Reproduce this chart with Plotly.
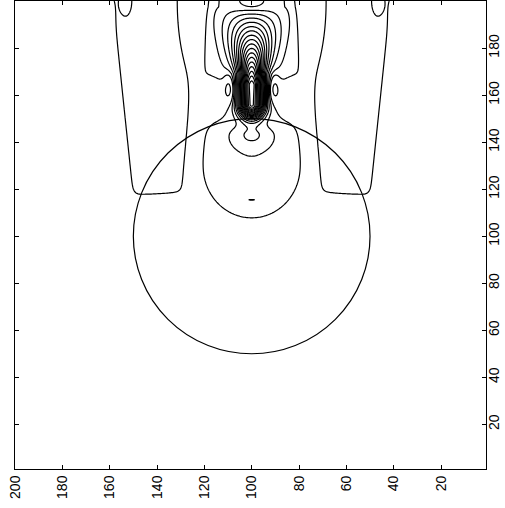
import numpy as np
import plotly.graph_objects as go

# ---- grid -------------------------------------------------------------
grid_step = 0.5
x_vals = np.arange(1.0, 200.0 + 1e-9, grid_step)
y_vals = np.arange(1.0, 200.0 + 1e-9, grid_step)

# ---- focal spot: gaussian across, plateau then linear fall along the beam --
focus_xc = 100.0
focus_amp = 0.9
focus_wx = 5.0           # across-beam width at the focus
focus_wx_spread = 0.22   # widening per unit height above focus_y_wide
focus_y_wide = 169.0
focus_y_lo = 156.0
focus_y_hi = 164.5
focus_len_up = 33.0
focus_w_down = 5.5

# ---- elliptical lobes: centre, signed amplitude, widths, edge sharpness --
lobe_name  = ["post-focus", "bulb", "column", "top dip",
              "side L", "side R", "dash", "pinch L", "pinch R"]
lobe_xc    = [100.0, 100.0, 100.0, 100.0, 109.5, 90.5, 100.0, 114.0, 86.0]
lobe_yc    = [143.0, 128.0, 200.0, 200.0, 162.8, 162.8, 115.3, 160.0, 160.0]
lobe_amp   = [0.08, 0.095, 0.12, -0.03, -0.16, -0.16, 0.03, -0.06, -0.06]
lobe_wx    = [10.0, 24.6, 16.3, 9.0, 2.2, 2.2, 5.0, 4.5, 4.5]
lobe_wup   = [4.5, 31.0, 1e6, 1e6, 5.5, 5.5, 0.7, 7.0, 7.0]
lobe_wdown = [6.0, 25.2, 40.0, 4.0, 5.5, 5.5, 0.7, 7.0, 7.0]
lobe_px    = [2.0, 2.0, 4.6, 2.0, 2.0, 2.0, 2.0, 2.0, 2.0]
lobe_py    = [2.0, 2.0, 4.0, 2.0, 2.0, 2.0, 2.0, 2.0, 2.0]

# ---- side-lobe fingers hanging from the top edge (opposite phase) -------
finger_amp    = [-0.095, -0.095]
finger_xc_top = [139.0, 61.0]
finger_xc_bot = [139.5, 60.5]
finger_w_top  = [20.5, 20.5]
finger_w_bot  = [11.1, 11.1]
finger_y_bot  = [117.5, 117.5]
finger_p      = 10.0

# ---- notches cut into the fingers from the top edge ---------------------
notch_xc   = [124.0, 76.0, 153.0, 47.0]
notch_amp  = [0.08, 0.08, 0.07, 0.07]
notch_wx   = [9.8, 9.8, 3.5, 3.5]
notch_wy   = [39.0, 39.0, 9.0, 9.0]

# ---- contour levels -----------------------------------------------------
level_start, level_end, level_step = 0.05, 0.95, 0.05

# ---- skull outline ------------------------------------------------------
circle_cx, circle_cy, circle_r = 100.0, 100.0, 50.0

X, Y = np.meshgrid(x_vals, y_vals)

# focal spot
g_up = np.clip(1.0 - (Y - focus_y_hi) / focus_len_up, 0.0, 1.0)
g_down = np.exp(-((focus_y_lo - Y) / focus_w_down) ** 2)
g = np.where(Y > focus_y_hi, g_up, np.where(Y < focus_y_lo, g_down, 1.0))
wx_focus = focus_wx + focus_wx_spread * np.clip(Y - focus_y_wide, 0.0, None)
field = focus_amp * np.exp(-((X - focus_xc) / wx_focus) ** 2) * g

for xc, yc, a, wx, wu, wd, px, py in zip(lobe_xc, lobe_yc, lobe_amp, lobe_wx,
                                         lobe_wup, lobe_wdown, lobe_px, lobe_py):
    dx = X - xc
    dy = Y - yc
    wy = np.where(dy >= 0, wu, wd)
    field += a * np.exp(-(np.abs(dx) / wx) ** px - (np.abs(dy) / wy) ** py)

for a, xt, xb, wt, wb, yb in zip(finger_amp, finger_xc_top, finger_xc_bot,
                                 finger_w_top, finger_w_bot, finger_y_bot):
    t = np.clip((Y - yb) / (200.0 - yb), 0, 1)
    xc = xb + (xt - xb) * t
    w = wb + (wt - wb) * t
    env = 1.0 / (1.0 + np.exp(-(Y - yb) / 1.5))
    field += a * np.exp(-(np.abs(X - xc) / w) ** finger_p) * env

for xc, a, wx, wy in zip(notch_xc, notch_amp, notch_wx, notch_wy):
    field += a * np.exp(-((X - xc) / wx) ** 2 - ((Y - 200.0) / wy) ** 2)

amplitude = np.round(np.abs(field), 5)

fig = go.Figure()
fig.add_trace(go.Contour(
    x=x_vals, y=y_vals, z=amplitude,
    contours=dict(start=level_start, end=level_end, size=level_step,
                  coloring="lines"),
    colorscale=[[0, "black"], [1, "black"]],
    line=dict(width=1.2, smoothing=0),
    showscale=False, hoverinfo="skip",
))
fig.add_shape(type="circle", xref="x", yref="y",
              x0=circle_cx - circle_r, x1=circle_cx + circle_r,
              y0=circle_cy - circle_r, y1=circle_cy + circle_r,
              line=dict(color="black", width=1.2))

axis_font = dict(family="Liberation Sans", size=14, color="black")
axis_common = dict(tickangle=-90, ticks="inside", ticklen=4, tickcolor="black",
                   showline=True, linecolor="black", linewidth=1, mirror="ticks",
                   showgrid=False, zeroline=False, tickfont=axis_font,
                   automargin=False)
fig.update_layout(
    width=505, height=508,
    margin=dict(l=15, r=19, t=1, b=39),
    paper_bgcolor="white", plot_bgcolor="white",
    showlegend=False,
    xaxis=dict(range=[200, 1], tickvals=list(range(20, 201, 20)), **axis_common),
    yaxis=dict(range=[1, 200], tickvals=list(range(20, 181, 20)), side="right",
               ticklabelstandoff=-5, **axis_common),
)
fig.write_html("out.html")
